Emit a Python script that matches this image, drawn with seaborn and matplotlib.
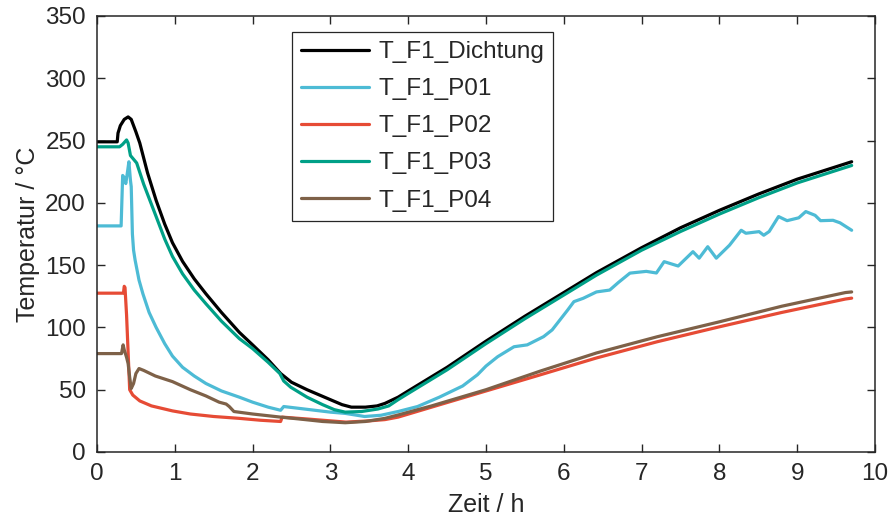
import numpy as np
import pandas as pd
import matplotlib
matplotlib.use("Agg")
import matplotlib.pyplot as plt
import seaborn as sns

series_names = ["T_F1_Dichtung", "T_F1_P01", "T_F1_P02", "T_F1_P03", "T_F1_P04"]
colors = ["#000000", "#4DBBD5", "#E64B35", "#00A087", "#7E6148"]

dichtung_t = [0, 0.26, 0.27, 0.30, 0.35, 0.40, 0.44, 0.50, 0.55, 0.65, 0.76, 0.87, 0.97, 1.1, 1.25,
              1.40, 1.6, 1.83, 2.0, 2.2, 2.36, 2.5, 2.7, 2.85, 3.0, 3.15, 3.27, 3.45, 3.6, 3.7,
              3.87, 4.0, 4.5, 5.0, 5.5, 6.0, 6.42, 7.0, 7.5, 8.0, 8.5, 9.0, 9.4, 9.7]
dichtung_T = [249, 249, 256, 262, 267, 269, 267, 257, 248, 224, 202, 183, 168, 153, 139,
              127, 112, 96, 86, 74, 63, 56, 50, 46, 42, 38, 36, 36, 37, 39,
              44, 49, 68, 89, 109, 128, 144, 164, 180, 194, 207, 219, 227, 233]

p01_t = [0, 0.31, 0.33, 0.35, 0.37, 0.39, 0.41, 0.43, 0.44, 0.455, 0.47, 0.49, 0.54, 0.59, 0.67,
         0.76, 0.87, 0.97, 1.1, 1.25, 1.4, 1.6, 1.83, 2.0, 2.2, 2.36, 2.40, 2.6, 2.8, 3.0,
         3.19, 3.44, 3.65, 3.87, 4.12, 4.4, 4.7, 4.89, 5.0, 5.15, 5.36, 5.53, 5.74, 5.85, 5.95,
         6.05, 6.13, 6.25, 6.42, 6.59, 6.7, 6.85, 7.06, 7.19, 7.29, 7.47, 7.66, 7.74, 7.85, 7.96,
         8.13, 8.28, 8.34, 8.51, 8.57, 8.64, 8.76, 8.87, 9.02, 9.11, 9.23, 9.30, 9.46, 9.55, 9.70]
p01_T = [181.5, 181.5, 222, 220, 215.5, 224, 233, 218, 213, 175, 162, 154, 138, 127, 112,
         100, 87, 77, 68, 61, 55, 49, 44, 40, 36, 33.5, 36.5, 35, 33.5, 32,
         31, 28.5, 29.5, 32.5, 36.5, 44, 53, 62, 69, 76.5, 84.5, 86, 92.6, 98, 106,
         114, 120.7, 123.4, 128.5, 130, 136, 143.6, 145, 143.7, 152.8, 149.3, 160.8, 155.6, 164.8, 155.6,
         166, 178, 175.6, 176.9, 174, 177, 189, 185.7, 188, 193, 190, 185.7, 186, 184, 178]

p02_t = [0, 0.34, 0.35, 0.36, 0.38, 0.40, 0.42, 0.46, 0.55, 0.7, 0.97, 1.2, 1.5, 1.83, 2.1,
         2.36, 2.38, 2.7, 3.0, 3.2, 3.5, 3.7, 3.87, 4.3, 5.0, 5.7, 6.42, 7.2, 8.0, 8.8, 9.62, 9.70]
p02_T = [127.5, 127.5, 133, 132, 110, 80, 50, 45.7, 41, 37, 33, 30.5, 28.5, 27, 25.5,
         24.5, 28, 26.5, 25, 24, 25, 26, 28, 36, 49, 62, 75.5, 88.5, 100.5, 112, 122.8, 123.5]

p03_t = [0, 0.29, 0.33, 0.38, 0.40, 0.43, 0.47, 0.51, 0.6, 0.76, 0.87, 0.97, 1.1, 1.25, 1.40,
         1.6, 1.83, 2.0, 2.2, 2.35, 2.40, 2.49, 2.7, 2.9, 3.05, 3.19, 3.4, 3.61, 3.75, 3.87,
         4.0, 4.5, 5.0, 5.5, 6.0, 6.42, 7.0, 7.5, 8.0, 8.5, 9.0, 9.4, 9.7]
p03_T = [245, 245, 247, 250.5, 248, 238, 235, 232, 215, 189, 171, 157, 143, 130, 119,
         105, 91, 83, 72, 63, 57, 52, 44, 38, 34, 32, 32.5, 34.5, 37, 42,
         47, 66, 87, 107, 126, 142, 162, 177, 191, 204, 216, 224, 230]

p04_t = [0, 0.315, 0.336, 0.35, 0.38, 0.40, 0.42, 0.44, 0.47, 0.50, 0.54, 0.6, 0.75, 0.97, 1.2,
         1.4, 1.57, 1.66, 1.70, 1.76, 2.0, 2.36, 2.6, 2.9, 3.19, 3.45, 3.70, 3.87, 4.3, 5.0,
         5.7, 6.42, 7.2, 8.0, 8.8, 9.62, 9.70]
p04_T = [79, 79, 86, 82, 76, 71, 60, 51, 55, 63, 67, 65.5, 61, 56.5, 50,
         45, 40, 38.5, 36.5, 32.5, 30.5, 28, 26.5, 24.5, 23.5, 24.5, 27, 29.7, 37, 50,
         65, 79.5, 92.5, 104.5, 117, 128, 128.5]

x_ticks = list(range(0, 11))
y_ticks = list(range(0, 351, 50))

frames = []
for name, t, T in zip(series_names,
                      [dichtung_t, p01_t, p02_t, p03_t, p04_t],
                      [dichtung_T, p01_T, p02_T, p03_T, p04_T]):
    frames.append(pd.DataFrame({"Zeit": t, "Temperatur": T, "Sensor": name}))
df = pd.concat(frames, ignore_index=True)

sns.set_theme(style="ticks")
plt.rcParams["font.family"] = ["Liberation Sans", "DejaVu Sans"]
axis_col = "#262626"

fig = plt.figure(figsize=(8.88, 5.28), dpi=100)
ax = fig.add_axes([97 / 888, 76 / 528, (875 - 97) / 888, (452 - 16) / 528])

sns.lineplot(data=df, x="Zeit", y="Temperatur", hue="Sensor", hue_order=series_names,
             palette=colors, estimator=None, sort=False, linewidth=2.3, ax=ax)

ax.set_xlim(0, 10)
ax.set_ylim(0, 350)
ax.set_xticks(x_ticks)
ax.set_yticks(y_ticks)
ax.set_xlabel("Zeit / h", fontsize=18, color=axis_col, labelpad=6)
ax.set_ylabel("Temperatur / °C", fontsize=18, color=axis_col, labelpad=4)
ax.tick_params(direction="in", top=True, right=True, length=6, width=1,
               labelsize=17.5, colors=axis_col, pad=8)
for s in ax.spines.values():
    s.set_visible(True)
    s.set_color(axis_col)
    s.set_linewidth(1.1)

sns.move_legend(ax, loc="upper left", bbox_to_anchor=(292 / 888, 1 - 32 / 528),
                bbox_transform=fig.transFigure, title=None, fontsize=17.5,
                frameon=True, fancybox=False, edgecolor=axis_col, framealpha=1,
                handlelength=2.8, handletextpad=0.37, labelspacing=0.62,
                borderpad=0.38, borderaxespad=0)
leg = ax.get_legend()
leg.get_frame().set_linewidth(0.9)
for line in leg.get_lines():
    line.set_linewidth(2.3)

fig.savefig("out.png", dpi=100)
